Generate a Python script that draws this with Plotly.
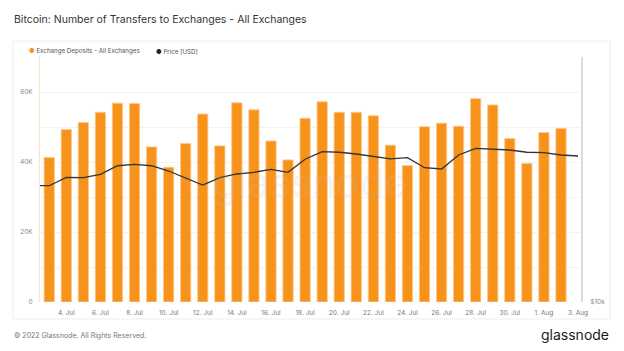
import plotly.graph_objects as go
import pandas as pd

# ---- data ----
deposit_dates = pd.date_range("2022-07-03", "2022-08-02", freq="D")
deposits = [41300, 49300, 51300, 54200, 56800, 56700, 44300, 38500, 45300, 53700,
            44600, 56900, 54900, 46000, 40600, 52500, 57200, 54200, 54200, 53200,
            44800, 39000, 50100, 51100, 50200, 58100, 56300, 46700, 39600, 48400,
            49600]
price_dates = pd.date_range("2022-07-02", "2022-08-03", freq="D")
price = [19340, 19340, 20280, 20240, 20630, 21660, 21840, 21660, 21020, 20170,
         19420, 20240, 20670, 20870, 21220, 20870, 22470, 23460, 23380, 23150,
         22800, 22530, 22680, 21420, 21260, 23020, 23910, 23820, 23680, 23380,
         23320, 23020, 22890]
left_tickvals = [0, 10000, 20000, 30000, 40000, 50000, 60000]
left_ticktext = ["0", "", "20K", "", "40K", "", "60K"]

W, H = 624, 351
L, R, T, B = 40, 581, 57, 302
pw, ph = R - L, B - T


def px(x):
    return (x - L) / pw


def py(y):
    return (B - y) / ph


FONT = "Inter"
ORANGE = "#f7931a"

fig = go.Figure()
fig.add_trace(go.Bar(
    x=deposit_dates, y=deposits, name="Exchange Deposits - All Exchanges",
    marker=dict(color=ORANGE, line=dict(color="rgba(252,200,140,0.9)", width=1)),
    width=0.6 * 86400000, yaxis="y",
))
fig.add_trace(go.Scatter(
    x=price_dates, y=price, name="Price [USD]", mode="lines",
    line=dict(color="#333333", width=1.3), yaxis="y2",
))

fig.update_layout(
    width=W, height=H,
    margin=dict(l=L, r=W - R, t=T, b=H - B, pad=0),
    paper_bgcolor="white", plot_bgcolor="white",
    showlegend=False,
    font=dict(family=FONT, color="#777777", size=7),
    xaxis=dict(
        type="date",
        range=["2022-07-02 11:00", "2022-08-03 04:10"],
        tick0="2022-07-04", dtick=2 * 86400000,
        tickformat="%-d. %b",
        showgrid=False, zeroline=False,
        showline=False,
        ticks="outside", ticklen=4, tickcolor="rgba(0,0,0,0)",
        tickfont=dict(size=6.5, color="#777777", family=FONT),
    ),
    yaxis=dict(
        range=[0, 70000],
        tickvals=left_tickvals, ticktext=left_ticktext,
        showgrid=True, gridcolor="#f3f3f3", gridwidth=1,
        zeroline=False,
        showline=True, linecolor="#fde3c6", linewidth=1,
        ticks="outside", ticklen=5, tickcolor="rgba(0,0,0,0)",
        tickfont=dict(size=6.5, color="#888888", family=FONT),
    ),
    yaxis2=dict(
        type="log", range=[4, 4.6035],
        overlaying="y", side="right",
        tickvals=[10000], ticktext=["$10k"],
        showgrid=False, zeroline=False,
        showline=True, linecolor="#dcdcdc", linewidth=2,
        ticks="outside", ticklen=6, tickcolor="rgba(0,0,0,0)",
        tickfont=dict(size=6.5, color="#888888", family=FONT),
    ),
    bargap=0.4,
)

# card frame
fig.add_shape(type="rect", xref="paper", yref="paper",
              x0=px(13), x1=px(610), y0=py(319), y1=py(41),
              line=dict(color="#eeeeee", width=1), fillcolor="rgba(0,0,0,0)",
              layer="below")

annotations = [
    dict(text="Bitcoin: Number of Transfers to Exchanges - All Exchanges",
         x=px(12), y=py(20), xanchor="left", yanchor="middle",
         font=dict(size=10.5, color="#333333", family=FONT)),
    dict(text="<span style='color:#f7931a'>●</span> Exchange Deposits - All Exchanges",
         x=px(27), y=py(51.5), xanchor="left", yanchor="middle",
         font=dict(size=6.2, color="#555555", family=FONT)),
    dict(text="<span style='color:#222222'>●</span> Price [USD]",
         x=px(153.5), y=py(51.5), xanchor="left", yanchor="middle",
         font=dict(size=6.2, color="#555555", family=FONT)),
    dict(text="© 2022 Glassnode. All Rights Reserved.",
         x=px(12), y=py(335), xanchor="left", yanchor="middle",
         font=dict(size=7, color="#777777", family=FONT)),
    dict(text="glassnode",
         x=px(611), y=py(334), xanchor="right", yanchor="middle",
         font=dict(size=14, color="#1a1a1a", family=FONT)),
    dict(text="glassnode",
         x=px(310), y=py(182), xanchor="center", yanchor="middle",
         font=dict(size=40, color="rgba(190,190,190,0.18)", family=FONT)),
]
for a in annotations:
    a.update(xref="paper", yref="paper", showarrow=False)
fig.update_layout(annotations=annotations)

fig.write_html("out.html")
